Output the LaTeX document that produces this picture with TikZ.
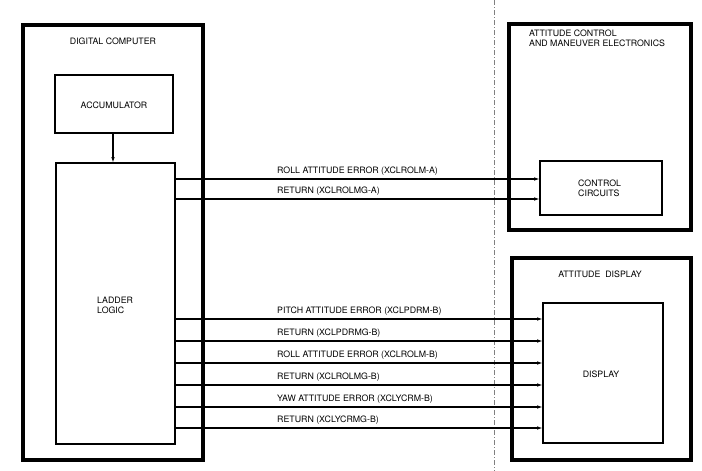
\documentclass[tikz,border=0pt]{standalone}
\usepackage{fontspec}
\setmainfont{TeX Gyre Heros}
\usetikzlibrary{arrows.meta}
\begin{document}
\begin{tikzpicture}[x=1pt,y=-1pt,
  txt/.style={font=\fontsize{8.8}{10}\selectfont, inner sep=0pt},
  outerbox/.style={draw, line width=3.4pt},
  innerbox/.style={draw, line width=1.8pt},
  sig/.style={line width=1.1pt, -{Latex[length=6pt,width=3.5pt]}},
  lbl/.style={txt, anchor=base west}]
\useasboundingbox (0,0) rectangle (702,471);
% boxes
\draw[outerbox] (23,25) rectangle (203,460);
\node[txt] (dc) at (113,41) {DIGITAL COMPUTER};
\draw[innerbox] (55,75) rectangle (173,133);
\node[txt] (acc) at (114,105) {ACCUMULATOR};
\draw[innerbox] (56,163) rectangle (175,444);
\node[txt, align=left, anchor=west] (ll) at (97,305) {LADDER\\LOGIC};
\coordinate (accb) at (113,133);
\coordinate (llt) at (113,163);
\draw[sig] (accb) -- (llt);

% dash-dot separator
\coordinate (sepT) at (494,0);
\coordinate (sepB) at (494,471);
\draw[line width=0.4pt, gray, dash pattern=on 5pt off 2pt on 1pt off 2pt] (sepT) -- (sepB);

\draw[outerbox] (509,24) rectangle (691,230);
\node[txt, align=left, anchor=north west] (acme) at (529,30) {ATTITUDE CONTROL\\AND MANEUVER ELECTRONICS};
\draw[innerbox] (540,161) rectangle (662,215);
\node[txt, align=left, anchor=west] (cc) at (578,188) {CONTROL\\CIRCUITS};

\draw[outerbox] (512,258) rectangle (691,460);
\node[txt] (ad) at (600,274) {ATTITUDE\ \ DISPLAY};
\draw[innerbox] (543,303) rectangle (663,443);
\node[txt] (disp) at (601,374) {DISPLAY};

% signals to control circuits
\foreach \y/\t in {179/{ROLL ATTITUDE ERROR (XCLROLM-A)},199/{RETURN (XCLROLMG-A)}}{
  \coordinate (a) at (175,\y);
  \coordinate (b) at (540,\y);
  \draw[sig] (a) -- (b);
  \node[lbl] at (277,\y-6) {\t};
}
% signals to display
\foreach \y/\t in {319/{PITCH ATTITUDE ERROR (XCLPDRM-B)},341/{RETURN (XCLPDRMG-B)},363/{ROLL ATTITUDE ERROR (XCLROLM-B)},385/{RETURN (XCLROLMG-B)},407/{YAW ATTITUDE ERROR (XCLYCRM-B)},428/{RETURN (XCLYCRMG-B)}}{
  \coordinate (a) at (175,\y);
  \coordinate (b) at (543,\y);
  \draw[sig] (a) -- (b);
  \node[lbl] at (277,\y-6) {\t};
}
\end{tikzpicture}
\end{document}
